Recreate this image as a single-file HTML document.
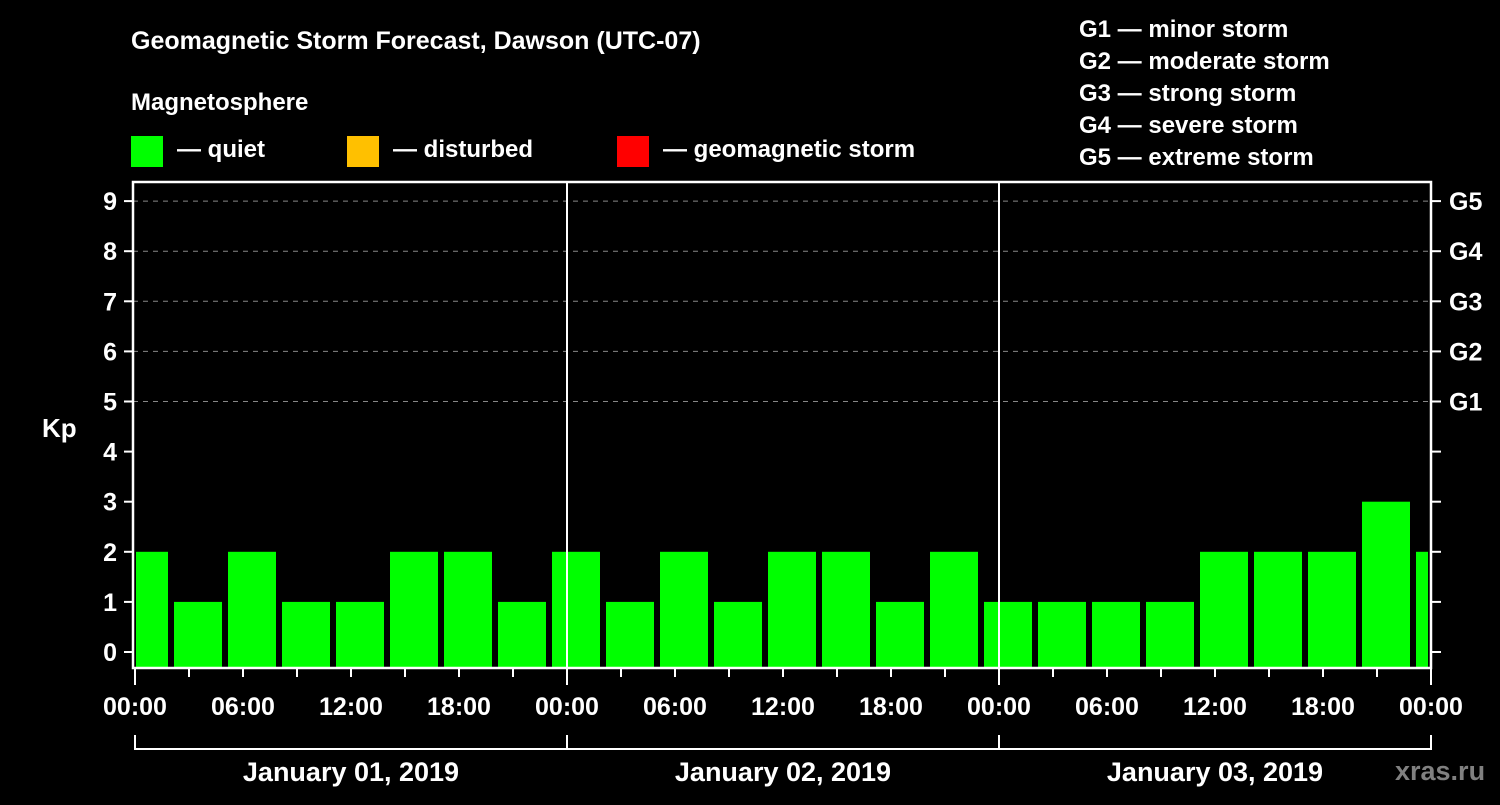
<!DOCTYPE html>
<html><head><meta charset="utf-8"><style>
body{margin:0;background:#000;width:1500px;height:800px;overflow:hidden}
svg text{font-family:"Liberation Sans",sans-serif;font-weight:bold;fill:#fff}
</style></head><body>
<svg id="chart" width="1500" height="800" xmlns="http://www.w3.org/2000/svg">
<rect width="1500" height="800" fill="#000"/>
<text x="131" y="49" font-size="25">Geomagnetic Storm Forecast, Dawson (UTC-07)</text>
<text x="131" y="110" font-size="24">Magnetosphere</text>
<g><rect x="131" y="136" width="32" height="31" fill="#00ff00"/><text x="177" y="157" font-size="24">— quiet</text></g>
<g><rect x="347" y="136" width="32" height="31" fill="#ffc000"/><text x="393" y="157" font-size="24">— disturbed</text></g>
<g><rect x="617" y="136" width="32" height="31" fill="#ff0000"/><text x="663" y="157" font-size="24">— geomagnetic storm</text></g>
<g font-size="24">
<text x="1079" y="37">G1 — minor storm</text>
<text x="1079" y="69">G2 — moderate storm</text>
<text x="1079" y="101">G3 — strong storm</text>
<text x="1079" y="133">G4 — severe storm</text>
<text x="1079" y="165">G5 — extreme storm</text>
</g>
<text x="42" y="437" font-size="26">Kp</text>
<text x="1395" y="780" font-size="27" style="fill:#808080">xras.ru</text>
<g id="grid"></g><g id="bars"></g><g id="axes"></g>
</svg>
<script>
const kpValues=[2,1,2,1,1,2,2,1,2,1,2,1,2,2,1,2,1,1,1,1,2,2,2,3,2];
const dayLabels=["January 01, 2019","January 02, 2019","January 03, 2019"];
const hourLabels=["00:00","06:00","12:00","18:00"];
const gLabels=["G1","G2","G3","G4","G5"];
const NS="http://www.w3.org/2000/svg";
const L=133,R=1431,T=182,B=668;
const x=h=>135+h*18;
const y=k=>652-k*50.1;
function mk(p,tag,a){const e=document.createElementNS(NS,tag);for(const k in a)e.setAttribute(k,a[k]);p.appendChild(e);return e;}
const grid=document.getElementById('grid'),bars=document.getElementById('bars'),axes=document.getElementById('axes');
for(let k=5;k<=9;k++){const l=mk(grid,'line',{x1:L,x2:R,y1:y(k),y2:y(k),stroke:'#888','stroke-dasharray':'5,5','stroke-width':1});

}
kpValues.forEach((v,i)=>{const s=x(i*3-1)+3,e=x(i*3+2)-3;const x0=Math.max(s,136),x1=Math.min(e,1428);
const c=v>=5?'#ff0000':(v>=4?'#ffc000':'#00ff00');
const r=mk(bars,'rect',{x:x0,y:y(v),width:x1-x0,height:B-y(v),fill:c});

});
mk(axes,'rect',{x:L,y:T,width:R-L,height:B-T,fill:'none',stroke:'#fff','stroke-width':2.5});
for(let d=1;d<3;d++){mk(axes,'line',{x1:x(d*24),x2:x(d*24),y1:T,y2:B,stroke:'#fff','stroke-width':2});}
for(let k=0;k<=9;k++){mk(axes,'line',{x1:124,x2:L,y1:y(k),y2:y(k),stroke:'#fff','stroke-width':2});
mk(axes,'line',{x1:R,x2:1441,y1:y(k),y2:y(k),stroke:'#fff','stroke-width':2});
const t=mk(axes,'text',{x:117,y:y(k)+9,'font-size':25,'text-anchor':'end'});t.textContent=k;

}
gLabels.forEach((g,i)=>{const t=mk(axes,'text',{x:1449,y:y(i+5)+9,'font-size':25});t.textContent=g;

});
for(let h=0;h<=72;h+=3){const big=h%24==0;mk(axes,'line',{x1:x(h),x2:x(h),y1:B,y2:B+(big?17:9),stroke:'#fff','stroke-width':2});}
for(let h=0;h<=72;h+=6){const t=mk(axes,'text',{x:x(h),y:715,'font-size':25,'text-anchor':'middle'});t.textContent=hourLabels[(h/6)%4];

}
mk(axes,'line',{x1:x(0),x2:x(72),y1:749,y2:749,stroke:'#fff','stroke-width':2});
for(let d=0;d<=3;d++)mk(axes,'line',{x1:x(d*24),x2:x(d*24),y1:735,y2:750,stroke:'#fff','stroke-width':2});
dayLabels.forEach((s,d)=>{const t=mk(axes,'text',{x:x(d*24+12),y:781,'font-size':27,'text-anchor':'middle'});t.textContent=s;

});
</script>
</body></html>
